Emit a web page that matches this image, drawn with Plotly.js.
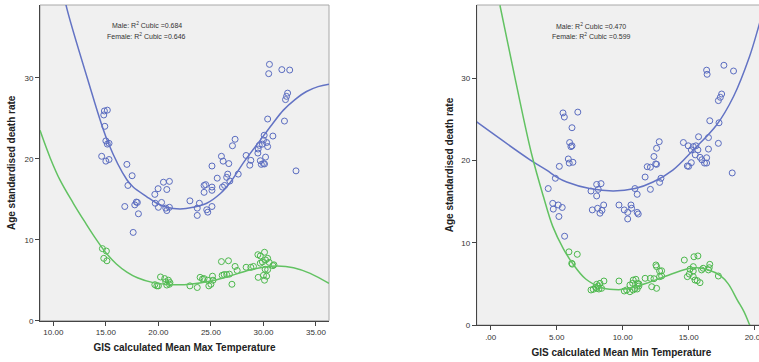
<!DOCTYPE html>
<html>
<head>
<meta charset="utf-8">
<script src="https://cdn.plot.ly/plotly-3.0.1.min.js"></script>
<style>
html, body { margin: 0; padding: 0; overflow: hidden; background: #fff; }
#chart { width: 766px; height: 362px; }
</style>
</head>
<body>
<div id="chart"></div>
<script>
// ---------- Left panel: Mean Max Temperature ----------
const maleMaxX = [14.86,15.14,14.8,14.9,15.0,15.14,15.3,14.6,15.0,15.3,17.0,17.5,17.1,16.8,17.75,17.9,18.0,18.1,17.6,19.66,19.97,20.48,21.05,20.8,19.7,20.0,20.3,20.7,20.8,21.05,23.0,23.9,23.7,23.7,24.6,24.7,25.1,24.35,24.35,25.1,25.1,26.1,26.5,26.8,27.6,26.6,25.1,26.0,26.16,26.7,27.3,27.05,28.35,28.8,28.7,29.7,30.0,30.2,29.8,30.1,30.07,30.0,29.9,29.6,29.5,29.47,30.3,30.4,30.9,30.4,32.0,32.3,32.2,32.1,30.57,30.5,31.75,32.5,33.1,24.5,26.3,25.6];
const maleMaxY = [25.9,26.0,25.4,24.0,22.2,21.8,21.9,20.3,19.7,19.9,19.3,17.9,16.7,14.1,14.3,14.65,14.6,13.2,10.9,15.6,16.3,17.1,17.2,16.2,14.5,14.0,14.6,13.9,13.6,14.0,14.8,14.5,13.9,13.0,13.7,13.4,14.1,16.7,15.85,16.5,16.1,16.5,17.7,17.25,18.1,18.1,19.1,20.3,19.7,19.4,22.4,21.6,20.4,19.8,19.2,19.75,19.4,20.2,19.3,19.35,22.9,22.3,21.8,21.65,21.2,20.7,22.0,21.5,22.8,24.9,24.65,28.1,27.7,27.3,31.65,30.5,31.0,30.95,18.5,16.8,16.7,17.6];
const femaleMaxX = [14.67,15.05,14.8,15.1,19.66,19.85,20.0,20.2,20.6,20.7,20.95,21.1,20.8,21.05,23.0,23.7,23.97,24.2,24.35,24.8,25.0,25.15,25.2,24.7,26.0,26.67,26.07,26.26,26.5,26.76,27.0,27.3,27.5,28.35,28.8,29.05,29.47,29.7,30.1,30.2,30.4,29.7,29.9,30.0,30.3,30.4,30.55,30.9,30.1,29.5,30.16,31.0];
const femaleMaxY = [8.9,8.6,7.7,7.4,4.45,4.3,4.3,5.4,5.2,4.8,5.0,4.7,4.4,4.5,4.3,4.1,5.35,5.15,5.2,4.3,4.5,5.5,5.0,5.0,7.3,7.4,5.6,5.7,5.7,5.75,4.5,6.7,6.2,6.6,6.6,6.7,8.15,8.0,8.45,7.5,7.7,7.1,7.25,5.6,5.5,6.3,7.2,6.8,5.0,5.35,6.35,6.9];
// cubic fit lines
const maleMaxFitX = [11.0,11.2,13.2,15.24,17.0,17.6,18.9,19.85,20.8,22.07,23.3,24.6,25.9,26.8,28.2,29.7,30.8,31.9,33.0,34.1,35.2,36.24];
const maleMaxFitY = [40.5,39.0,30.1,21.9,17.4,16.5,15.3,14.5,14.0,13.8,14.0,14.5,15.7,17.0,19.7,22.3,24.2,26.0,27.3,28.3,28.9,29.2];
const femaleMaxFitX = [8.73,9.7,10.64,11.9,13.0,14.0,15.0,16.0,17.0,18.0,19.5,21.4,23.0,25.0,26.5,28.7,30.0,31.3,32.86,34.45,36.24];
const femaleMaxFitY = [23.5,20.1,17.35,14.5,12.2,10.2,8.4,7.0,6.0,5.3,4.7,4.45,4.5,4.9,5.4,6.25,6.6,6.75,6.55,5.85,4.6];
const maxTickVals = [10,15,20,25,30,35];
const maxTickText = ['10.00','15.00','20.00','25.00','30.00','35.00'];

// ---------- Right panel: Mean Min Temperature ----------
const maleMinX = [5.48,5.58,6.6,6.16,5.98,6.08,6.16,5.88,5.95,6.23,5.2,4.9,4.36,4.7,5.12,5.42,4.74,5.17,5.6,7.6,8.03,8.36,8.15,8.03,7.7,8.1,8.28,8.56,8.43,9.72,10.12,10.38,10.63,10.68,10.38,11.1,11.18,10.93,11.1,11.7,12.1,12.8,12.9,12.77,12.57,12.37,12.57,12.1,14.6,14.97,15.35,15.55,15.2,15.7,16.5,15.5,15.86,16.36,16.2,16.36,16.0,14.9,15.0,15.2,15.75,16.5,17.25,16.6,17.3,17.5,17.4,17.25,16.36,16.4,17.67,18.4,18.3,11.86,12.5];
const maleMinY = [25.8,25.3,25.9,24.0,22.2,21.7,21.8,20.2,19.7,19.8,19.3,17.85,16.6,14.8,14.6,14.3,14.1,13.2,10.8,16.3,17.1,17.2,16.5,15.7,14.0,14.2,13.6,14.6,13.95,14.6,14.0,13.7,14.6,14.2,12.9,13.7,13.5,16.6,15.9,18.0,16.5,17.35,17.85,22.3,21.5,20.5,19.55,19.2,22.2,21.8,21.7,21.8,21.3,21.3,21.4,20.7,20.4,20.35,19.7,19.7,20.1,19.35,19.3,19.75,22.9,22.8,22.1,24.85,24.6,28.1,27.7,27.3,31.0,30.5,31.6,30.9,18.5,19.26,19.6];
const femaleMinX = [5.93,6.56,6.14,6.18,7.6,7.77,8.03,8.15,8.28,8.4,8.58,8.03,8.2,7.95,9.72,10.12,10.3,10.55,10.8,10.93,10.55,10.76,11.0,11.13,11.23,10.8,11.1,11.7,12.1,12.2,12.57,12.52,12.57,12.8,12.8,12.95,12.37,14.67,15.4,15.7,15.35,14.9,15.05,15.35,15.48,15.65,15.86,15.1,15.98,16.1,16.56,16.5,16.6,17.25,15.35,12.95,11.23];
const femaleMinY = [8.9,8.6,7.5,7.4,4.26,4.34,4.95,4.74,5.07,4.46,5.35,4.46,4.38,4.58,5.35,4.14,4.26,4.05,4.26,4.42,4.87,5.07,5.56,5.07,4.74,5.47,4.38,5.68,5.68,4.66,4.46,7.3,7.1,6.57,5.88,5.96,5.63,7.9,8.3,8.4,7.1,5.88,6.2,5.88,5.47,5.4,5.15,6.78,6.7,6.9,6.97,6.7,7.38,5.96,6.57,6.6,5.0];
const maleMinFitX = [-1.06,2.98,4.24,5.0,5.76,7.5,9.3,10.93,12.3,13.8,15.35,17.1,18.4,19.6,20.3,20.86];
const maleMinFitY = [24.7,20.1,18.85,18.0,17.4,16.6,16.3,16.6,17.4,18.85,21.3,24.3,27.8,32.6,36.3,39.5];
const femaleMinFitX = [0.7,1.9,3.1,4.0,4.7,5.5,6.2,7.2,8.5,9.7,10.3,11.8,13.3,14.85,15.6,16.4,17.4,18.0,18.7,19.2,19.6,20.0];
const femaleMinFitY = [38.9,29.6,20.8,15.6,12.0,9.3,7.5,5.6,4.5,4.3,4.4,5.07,5.96,6.8,6.95,6.75,6.0,5.0,3.0,1.6,0.1,-1.5];
const minTickVals = [0,5,10,15,20];
const minTickText = ['.00','5.00','10.00','15.00','20.00'];

const r2Max = ['Male: R<sup>2</sup> Cubic =0.684','Female: R<sup>2</sup> Cubic =0.646'];
const r2Min = ['Male: R<sup>2</sup> Cubic =0.470','Female: R<sup>2</sup> Cubic =0.599'];

// ---------- styling ----------
const W = 766, H = 362;
const BLUE = '#5a6cc0', GREEN = '#4cb84c';
const BLUE_LINE = '#6373c4', GREEN_LINE = '#62c262';
const FONT = 'Liberation Sans, Arial, sans-serif';
const px = v => v / W;
const py = v => 1 - v / H;

function pts(x, y, color, xa, ya, name) {
  return {x, y, xaxis: xa, yaxis: ya, type: 'scatter', mode: 'markers', name,
    marker: {symbol: 'circle-open', size: 6, color, line: {color, width: 1}},
    showlegend: false, hoverinfo: 'skip', cliponaxis: true};
}
function fit(x, y, color, xa, ya, name) {
  return {x, y, xaxis: xa, yaxis: ya, type: 'scatter', mode: 'lines', name,
    line: {color, width: 1.5, shape: 'spline', smoothing: 1},
    showlegend: false, hoverinfo: 'skip'};
}

const data = [
  pts(maleMaxX, maleMaxY, BLUE, 'x', 'y', 'Male'),
  pts(femaleMaxX, femaleMaxY, GREEN, 'x', 'y', 'Female'),
  fit(maleMaxFitX, maleMaxFitY, BLUE_LINE, 'x', 'y', 'Male fit'),
  fit(femaleMaxFitX, femaleMaxFitY, GREEN_LINE, 'x', 'y', 'Female fit'),
  pts(maleMinX, maleMinY, BLUE, 'x2', 'y2', 'Male'),
  pts(femaleMinX, femaleMinY, GREEN, 'x2', 'y2', 'Female'),
  fit(maleMinFitX, maleMinFitY, BLUE_LINE, 'x2', 'y2', 'Male fit'),
  fit(femaleMinFitX, femaleMinFitY, GREEN_LINE, 'x2', 'y2', 'Female fit')
];

const tickFont = {family: FONT, size: 8, color: '#333'};
const titleFont = {family: FONT, size: 10, color: '#222', weight: 'bold'};
const axBase = {showgrid: false, zeroline: false, showline: true, linecolor: '#444', linewidth: 1,
  ticks: 'outside', ticklen: 4, tickcolor: '#444', tickfont: tickFont, automargin: false, fixedrange: true};

const layout = {
  width: W, height: H,
  margin: {l: 0, r: 0, t: 0, b: 0},
  paper_bgcolor: '#ffffff', plot_bgcolor: '#f0f0f0',
  font: {family: FONT},
  xaxis: Object.assign({}, axBase, {domain: [px(40), px(329)], range: [8.73, 36.24], anchor: 'y',
    tickvals: maxTickVals, ticktext: maxTickText,
    title: {text: 'GIS calculated Mean Max Temperature', font: titleFont, standoff: 7}}),
  yaxis: Object.assign({}, axBase, {domain: [py(320.7), py(5)], range: [0, 38.98], anchor: 'x',
    tickvals: [0,10,20,30],
    title: {text: 'Age standardised death rate', font: titleFont, standoff: 6}}),
  xaxis2: Object.assign({}, axBase, {domain: [px(476.7), 1], range: [-1.06, 20.86], anchor: 'y2',
    tickvals: minTickVals, ticktext: minTickText,
    title: {text: 'GIS calculated Mean Min Temperature', font: titleFont, standoff: 8}}),
  yaxis2: Object.assign({}, axBase, {domain: [py(325), py(5)], range: [0, 38.93], anchor: 'x2',
    tickvals: [0,10,20,30],
    title: {text: 'Age standardised death rate', font: titleFont, standoff: 5}}),
  shapes: [
    {type: 'rect', xref: 'x domain', yref: 'y domain', x0: 0, x1: 1, y0: 0, y1: 1,
     line: {color: '#a8a8a8', width: 1}, layer: 'below'},
    {type: 'rect', xref: 'x2 domain', yref: 'y2 domain', x0: 0, x1: 1, y0: 0, y1: 1,
     line: {color: '#a8a8a8', width: 1}, layer: 'below'}
  ],
  annotations: [
    {text: r2Max[0], xref: 'paper', yref: 'paper', x: px(146.7), y: py(25), xanchor: 'center', yanchor: 'middle', showarrow: false, font: {family: FONT, size: 7, color: '#333'}},
    {text: r2Max[1], xref: 'paper', yref: 'paper', x: px(146.7), y: py(35.5), xanchor: 'center', yanchor: 'middle', showarrow: false, font: {family: FONT, size: 7, color: '#333'}},
    {text: r2Min[0], xref: 'paper', yref: 'paper', x: px(591), y: py(26), xanchor: 'center', yanchor: 'middle', showarrow: false, font: {family: FONT, size: 7, color: '#333'}},
    {text: r2Min[1], xref: 'paper', yref: 'paper', x: px(591), y: py(36), xanchor: 'center', yanchor: 'middle', showarrow: false, font: {family: FONT, size: 7, color: '#333'}}
  ]
};

Plotly.newPlot('chart', data, layout, {displayModeBar: false, staticPlot: true, responsive: false});
</script>
</body>
</html>
